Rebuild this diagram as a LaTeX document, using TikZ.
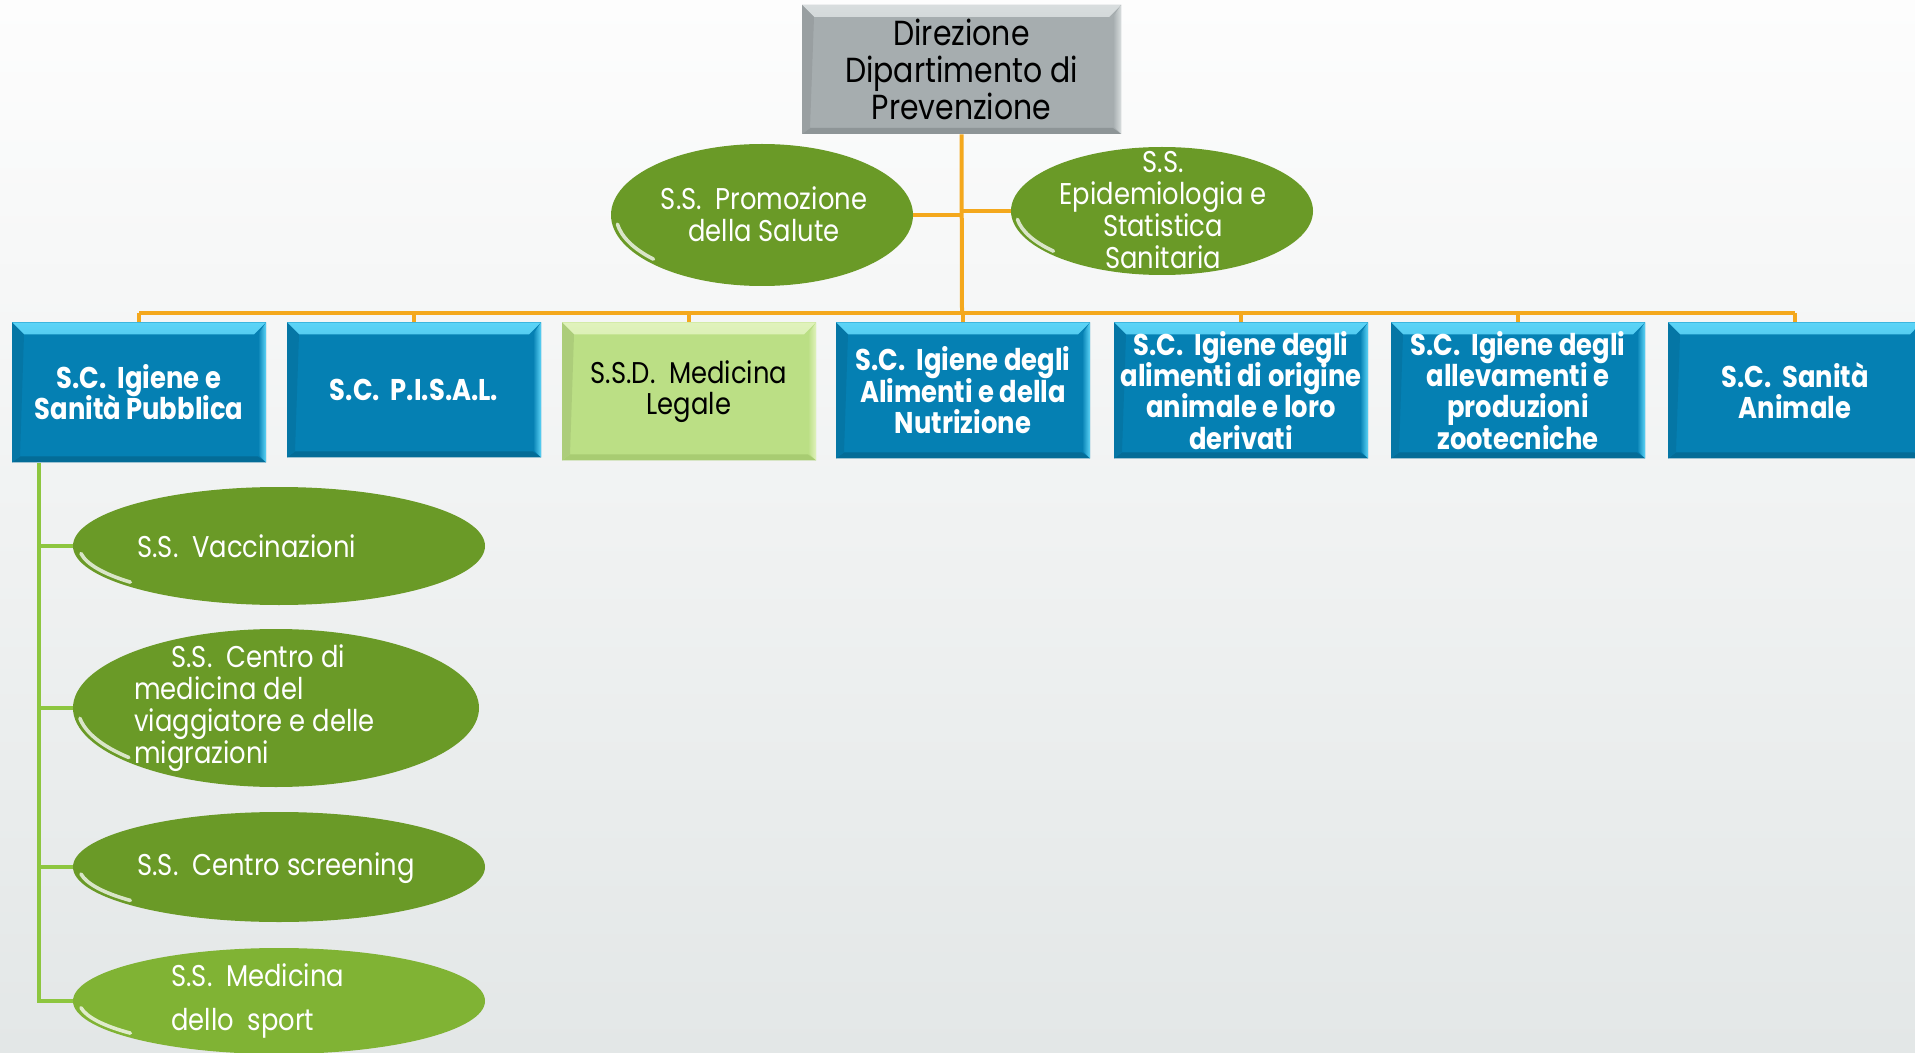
\documentclass[tikz,border=0pt]{standalone}
\usepackage{fontspec}
\setmainfont{Poppins}[FakeStretch=0.86]
\usetikzlibrary{shapes.geometric}
\newcommand\tightls{\lineskiplimit=-100pt\relax}
\definecolor{bgtop}{HTML}{FDFDFD}
\definecolor{bgbot}{HTML}{E3E7E7}
\definecolor{grayface}{HTML}{A6ADAF}
\definecolor{graylight}{HTML}{D8DDDE}
\definecolor{graydark}{HTML}{8E9597}
\definecolor{blueface}{HTML}{0580B3}
\definecolor{bluelight}{HTML}{5CD4F7}
\definecolor{bluedark}{HTML}{046C97}
\definecolor{lgface}{HTML}{BBDF85}
\definecolor{lglight}{HTML}{E0F2BC}
\definecolor{lgdark}{HTML}{A8CC72}
\definecolor{ellgreen}{HTML}{6A9A27}
\definecolor{ellgreenlight}{HTML}{80B334}
\definecolor{orangeline}{HTML}{F4A81D}
\definecolor{greenline}{HTML}{8DC63F}
\tikzset{
  bevel/.style n args={3}{fill=#1, path picture={
    \fill[top color=#2, bottom color=#1] (path picture bounding box.north west) -- (path picture bounding box.north east) -- ([shift={(-6pt,-6pt)}]path picture bounding box.north east) -- ([shift={(6pt,-6pt)}]path picture bounding box.north west) -- cycle;
    \fill[left color=#1, right color=#2] (path picture bounding box.north east) -- (path picture bounding box.south east) -- ([shift={(-4pt,4pt)}]path picture bounding box.south east) -- ([shift={(-4pt,-6pt)}]path picture bounding box.north east) -- cycle;
    \fill[#3] (path picture bounding box.south west) -- (path picture bounding box.south east) -- ([shift={(-4pt,3pt)}]path picture bounding box.south east) -- ([shift={(4pt,3pt)}]path picture bounding box.south west) -- cycle;
    \fill[#1!92!black] (path picture bounding box.south west) -- (path picture bounding box.north west) -- ([shift={(6pt,-6pt)}]path picture bounding box.north west) -- ([shift={(4pt,3pt)}]path picture bounding box.south west) -- cycle;
  }},
  graybox/.style={rectangle, bevel={grayface}{graylight}{graydark}, inner sep=2pt, align=center,
    font=\fontsize{17.4}{18.3}\selectfont\tightls, text=black},
  bluebox/.style={rectangle, bevel={blueface}{bluelight}{bluedark}, minimum width=127pt, minimum height=68pt,
    inner sep=1pt, align=center, anchor=north, text=white, font=\bfseries\fontsize{15}{15.7}\selectfont\tightls},
  lgbox/.style={rectangle, bevel={lgface}{lglight}{lgdark}, minimum width=127pt, minimum height=68pt,
    inner sep=1pt, align=center, anchor=north, text=black, font=\fontsize{15}{15.7}\selectfont\tightls},
  gell/.style={ellipse, fill=ellgreen, inner sep=0pt},
  elltext/.style={text=white, font=\fontsize{15}{16}\selectfont\tightls, inner sep=0pt},
  orl/.style={draw=orangeline, line width=2pt},
  grl/.style={draw=greenline, line width=2pt},
  shine/.style={white, line width=1.8pt, opacity=0.75, line cap=round},
}
\begin{document}
\begin{tikzpicture}[x=0.5pt,y=-0.5pt]
\useasboundingbox (0,0) rectangle (1915,1053);
\clip (0,0) rectangle (1915,1053);
\shade[top color=bgtop, bottom color=bgbot] (0,0) rectangle (1915,1053);

% top
\node[graybox, minimum width=159.5pt, minimum height=64.5pt] (dir) at (961.5,69.5) {Direzione\\Dipartimento di\\Prevenzione};

% second level ellipses
\node[gell, minimum width=151pt, minimum height=71pt] (pro) at (762,215) {};
\node[gell, minimum width=151pt, minimum height=64pt] (epi) at (1162,211) {};
\node[elltext, align=center] (protx) at (764,214) {S.S.\ \ Promozione\\della Salute};
\node[elltext, align=center] (epitx) at (1163,210) {S.S.\\Epidemiologia e\\Statistica\\Sanitaria};

% bar
\coordinate (bar) at (962,313);
\coordinate (barL) at (139,313);
\coordinate (barR) at (1795,313);

% boxes
\node[bluebox, minimum height=70pt] (b1) at (139,322) {S.C.\ \ Igiene e\\Sanità Pubblica};
\node[bluebox, minimum height=67.5pt] (b2) at (414,322) {S.C.\ \ P.I.S.A.L.};
\node[lgbox, minimum height=69pt] (b3) at (689,322) {S.S.D.\ \ Medicina\\Legale};
\node[bluebox] (b4) at (963,322) {S.C.\ \ Igiene degli\\Alimenti e della\\Nutrizione};
\node[bluebox] (b5) at (1241,322) {S.C.\ \ Igiene degli\\alimenti di origine\\animale e loro\\derivati};
\node[bluebox] (b6) at (1518,322) {S.C.\ \ Igiene degli\\allevamenti e\\produzioni\\zootecniche};
\node[bluebox] (b7) at (1795,322) {S.C.\ \ Sanità\\Animale};

% orange connectors
\draw[orl] (dir.south) -- (bar);
\draw[orl] (barL) -- (barR);
\draw[orl] (pro.east) -- (pro.east -| bar);
\draw[orl] (epi.west) -- (epi.west -| bar);
\foreach \b in {b1,b2,b3,b4,b5,b6,b7} { \draw[orl] (\b.north) -- (\b.north |- bar); }

% bottom ellipses
\node[gell, minimum width=206pt, minimum height=59pt] (e1) at (279,546) {};
\node[gell, minimum width=203pt, minimum height=79pt] (e2) at (276,708) {};
\node[gell, minimum width=206pt, minimum height=55pt] (e3) at (279,867) {};
\node[gell, fill=ellgreenlight, minimum width=206pt, minimum height=53pt] (e4) at (279,1001) {};

\draw[shine] ([shift={(188:100pt and 27pt)}]e1.center) arc[start angle=188, end angle=222, x radius=100pt, y radius=27pt];
\draw[shine] ([shift={(188:99pt and 37pt)}]e2.center) arc[start angle=188, end angle=222, x radius=99pt, y radius=37pt];
\draw[shine] ([shift={(188:100pt and 25pt)}]e3.center) arc[start angle=188, end angle=222, x radius=100pt, y radius=25pt];
\draw[shine] ([shift={(188:100pt and 24pt)}]e4.center) arc[start angle=188, end angle=222, x radius=100pt, y radius=24pt];
\draw[shine] ([shift={(188:73pt and 33pt)}]pro.center) arc[start angle=188, end angle=222, x radius=73pt, y radius=33pt];
\draw[shine] ([shift={(188:73pt and 30pt)}]epi.center) arc[start angle=188, end angle=222, x radius=73pt, y radius=30pt];

\node[elltext, anchor=west] (e1tx) at (137,546) {S.S.\ \ Vaccinazioni};
\node[elltext, anchor=west, align=left, font=\fontsize{15}{15.9}\selectfont\tightls] (e2tx) at (134,708) {\hspace*{18.5pt}S.S.\ \ Centro di\\medicina del\\viaggiatore e delle\\migrazioni};
\node[elltext, anchor=west] (e3tx) at (137,868) {S.S.\ \ Centro screening};
\node[elltext, anchor=west, align=left, font=\fontsize{15}{22}\selectfont\tightls] (e4tx) at (171,1001) {S.S.\ \ Medicina\\dello\ \ sport};

% green connectors
\coordinate (gtop) at (b1.south -| 39,0);
\draw[grl] (gtop) |- (e4.west);
\foreach \e in {e1,e2,e3} { \draw[grl] (gtop |- \e.west) -- (\e.west); }
\end{tikzpicture}
\end{document}
